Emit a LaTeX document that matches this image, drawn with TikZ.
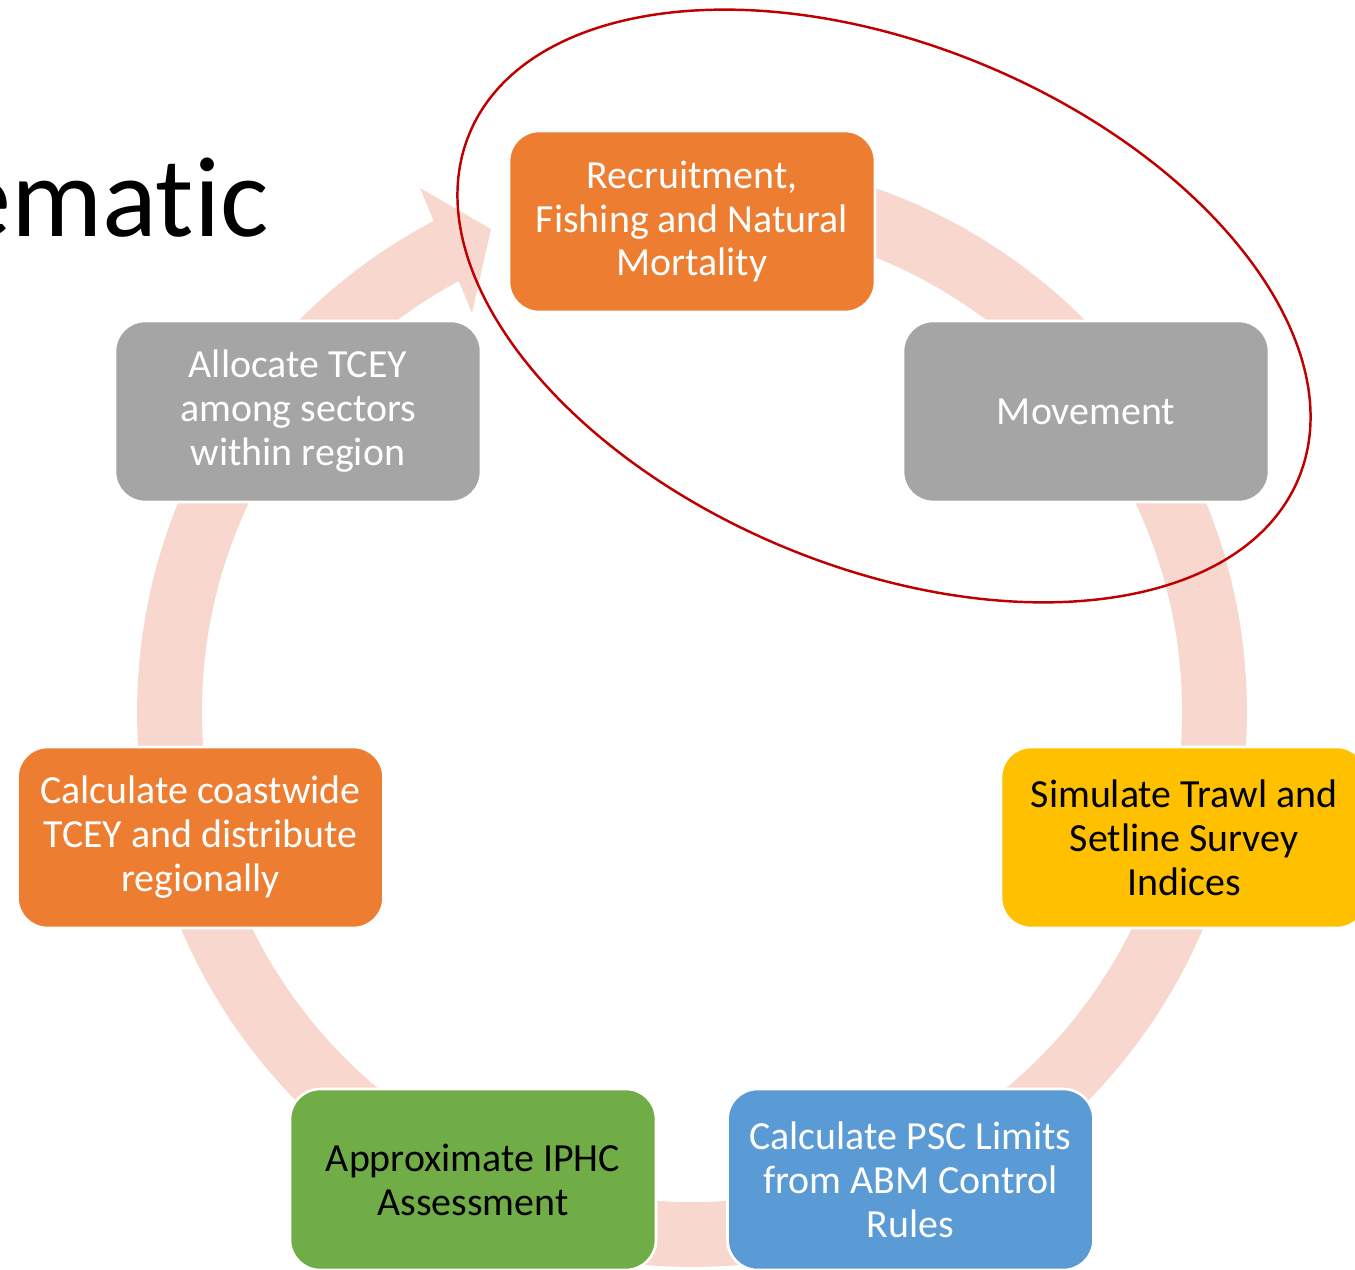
\documentclass[tikz,border=0pt]{standalone}
\usepackage{fontspec}
\setmainfont{Carlito}[Ligatures=NoCommon]
\usetikzlibrary{positioning,calc}
\definecolor{ringpink}{HTML}{F8D8CE}
\definecolor{accorange}{HTML}{ED7D31}
\definecolor{accgray}{HTML}{A5A5A5}
\definecolor{accyellow}{HTML}{FFC000}
\definecolor{accblue}{HTML}{5B9BD5}
\definecolor{accgreen}{HTML}{70AD47}
\definecolor{ellred}{HTML}{C00000}

\begin{document}
\begin{tikzpicture}[x=0.02cm,y=0.02cm,
    stepbox/.style={rounded corners=0.6cm, draw=white, line width=1.5pt,
      minimum width=7.32cm, minimum height=3.62cm, inner sep=0pt,
      align=center, font=\fontsize{22.7}{25}\selectfont},
    orangebox/.style={stepbox, fill=accorange, text=white},
    graybox/.style={stepbox, fill=accgray, text=white},
    yellowbox/.style={stepbox, fill=accyellow, text=black},
    bluebox/.style={stepbox, fill=accblue, text=white},
    greenbox/.style={stepbox, fill=accgreen, text=black}]
    \clip (0,0) rectangle (1355,1269);
    \coordinate (c) at (692,557);
    \coordinate (barbout) at (420,1081);
    \coordinate (tip) at (491,1040);
    \coordinate (barbin) at (472,956);

    \draw[ringpink, line width=36.9pt] ($(c)+(90:522.5)$) arc[start angle=90, end angle=-244, radius=522.5];
    \fill[ringpink] (barbout) -- (tip) -- (barbin) -- cycle;

    \node[anchor=base east, inner sep=0pt, font=\fontsize{65}{70}\selectfont] (title) at (269,1032) {ematic};

    \node[orangebox] (rec) at (692,1047.5) {Recruitment,\\Fishing and Natural\\Mortality};
    \node[graybox] (move) at (1086,857.5) {Movement};
    \node[yellowbox] (survey) at (1184,431.5) {Simulate Trawl and\\Setline Survey\\Indices};
    \node[bluebox] (psc) at (910.5,89.5) {Calculate PSC Limits\\from ABM Control\\Rules};
    \node[greenbox] (assess) at (473,89.5) {Approximate IPHC\\Assessment};
    \node[orangebox] (tcey) at (200.5,431.5) {Calculate coastwide\\TCEY and distribute\\regionally};
    \node[graybox] (alloc) at (298,857.5) {Allocate TCEY\\among sectors\\within region};

    \draw[ellred, line width=1.4pt, rotate around={-22.6:(884,963)}] (884,963) ellipse[x radius=449, y radius=261];
\end{tikzpicture}
\end{document}
